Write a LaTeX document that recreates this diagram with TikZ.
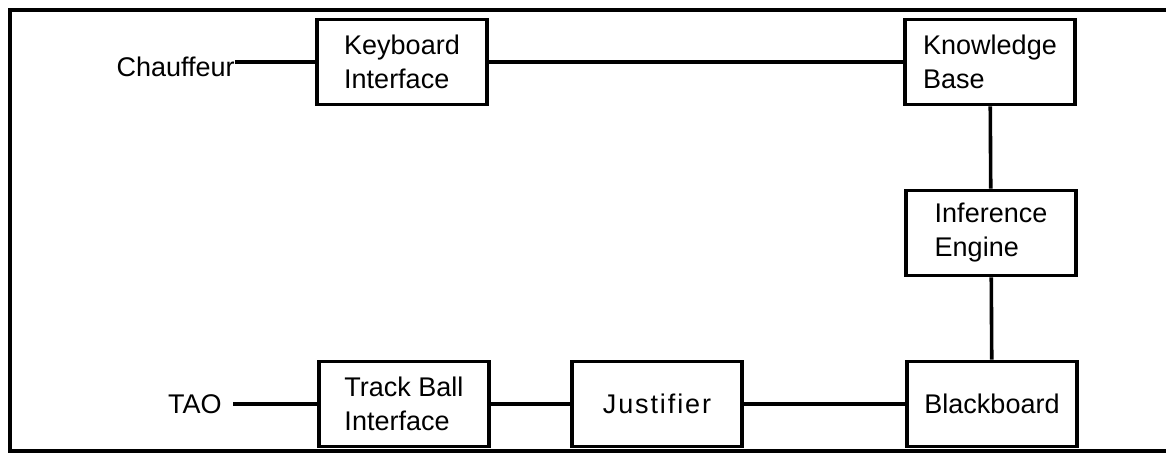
\documentclass[tikz,border=0pt]{standalone}
\usepackage{fontspec}
\setmainfont{Liberation Sans}
\usepackage{tikz}
\usetikzlibrary{positioning}

\begin{document}
\begin{tikzpicture}[x=0.5pt,y=-0.5pt,
    unitbox/.style={draw,line width=1.8pt,minimum width=85pt,minimum height=42.5pt,
                    align=left,inner sep=2pt,font=\fontsize{13.5}{17}\selectfont},
    actor/.style={inner sep=0pt,font=\fontsize{13.5}{17}\selectfont},
    link/.style={line width=1.8pt}]
    \useasboundingbox (0,0) rectangle (1166,453);
    % frame
    \draw[line width=1.6pt] (1166,10) -- (10,10) -- (10,451) -- (1166,451);

    \node[unitbox] (keyboard) at (402,62) {Keyboard\\Interface};
    \node[unitbox] (knowledge) at (990,62) {Knowledge\\Base};
    \node[unitbox] (inference) at (991,233) {Inference\\Engine};
    \node[unitbox] (blackboard) at (992,404) {Blackboard};
    \node[unitbox] (justifier) at (657,404) {\addfontfeature{LetterSpace=7}Justifier};
    \node[unitbox] (trackball) at (404,404) {Track Ball\\Interface};

    \node[actor,anchor=base east] (chauffeur) at (235,77) {Chauffeur};
    \node[actor,anchor=east,inner xsep=5.5pt] (tao) at (233,404) {TAO};

    \draw[link] (keyboard.west) -- (keyboard.west -| chauffeur.east);
    \draw[link] (keyboard) -- (knowledge);
    \draw[link] (knowledge) -- (inference);
    \draw[link] (inference) -- (blackboard);
    \draw[link] (trackball.west) -- (trackball.west -| tao.east);
    \draw[link] (trackball) -- (justifier);
    \draw[link] (justifier) -- (blackboard);
\end{tikzpicture}
\end{document}
